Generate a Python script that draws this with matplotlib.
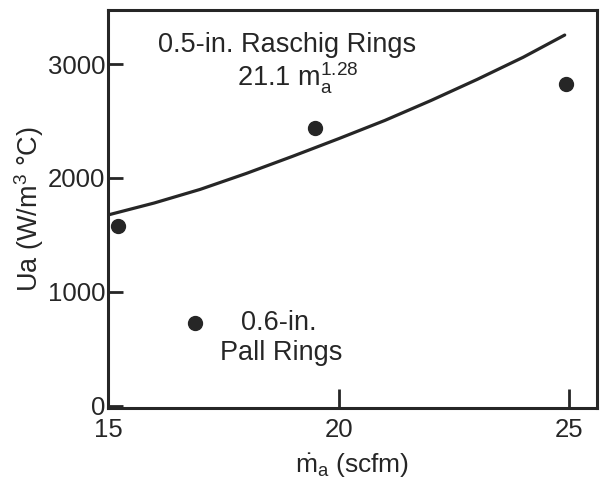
import matplotlib
matplotlib.use("Agg")
import matplotlib.pyplot as plt

plt.rcParams['font.family'] = ['Liberation Sans', 'DejaVu Sans']
plt.rcParams['mathtext.fontset'] = 'custom'
plt.rcParams['mathtext.rm'] = 'Liberation Sans'
plt.rcParams['mathtext.it'] = 'Liberation Sans:italic'

# Fitted curve for 0.5-in. Raschig rings
curve_x = [15.0, 16.0, 17.0, 18.0, 19.0, 20.0, 21.0, 22.0, 23.0, 24.0, 24.9]
curve_y = [1675, 1780, 1900, 2040, 2190, 2345, 2505, 2680, 2865, 3060, 3255]

# Raschig ring data points
raschig_x = [15.22, 19.48, 24.93]
raschig_y = [1575, 2436, 2825]

# Pall ring data point
pall_x = [16.89]
pall_y = [730]

x_ticks = [15, 20, 25]
y_ticks = [0, 1000, 2000, 3000]

ink = '#262626'

fig = plt.figure(figsize=(6.07, 4.82), dpi=100)
ax = fig.add_axes([108/607, 1-408/482, (597-108)/607, (408-10)/482])

ax.plot(curve_x, curve_y, color=ink, lw=2.3, solid_capstyle='round', solid_joinstyle='round')
ax.plot(raschig_x, raschig_y, 'o', color=ink, ms=10)
ax.plot(pall_x, pall_y, 'o', color=ink, ms=10)

ax.set_xlim(15, 25.6)
ax.set_ylim(-20, 3475)
ax.set_xticks(x_ticks)
ax.set_yticks(y_ticks)
ax.tick_params(axis='both', direction='in', colors=ink, labelsize=18.5, width=2)
ax.tick_params(axis='x', length=14, pad=7)
ax.tick_params(axis='y', length=11, pad=2)
for s in ax.spines.values():
    s.set_linewidth(2.2)
    s.set_color(ink)

ax.set_ylabel('Ua (W/m$^3$ °C)', fontsize=19.5, color=ink, labelpad=1)
ax.set_xlabel(r'$\dot{\mathrm{m}}_{\mathrm{a}}$ (scfm)', fontsize=19, color=ink, labelpad=7)

ax.text(287, 45, '0.5-in. Raschig Rings', transform=None, fontsize=19.5, color=ink,
        ha='center', va='center')
ax.text(298, 78, r'21.1 m$_{\mathrm{a}}^{\mathrm{1.28}}$', fontsize=19.5, color=ink,
        ha='center', va='center', transform=None)
ax.text(279, 323, '0.6-in.', fontsize=19.5, color=ink, ha='center', va='center', transform=None)
ax.text(281, 353, 'Pall Rings', fontsize=19.5, color=ink, ha='center', va='center', transform=None)

# transform=None texts use display coords (origin bottom-left): convert
for t in ax.texts:
    x, y = t.get_position()
    t.set_position((x, 482 - y))

fig.savefig('out.png', dpi=100)
